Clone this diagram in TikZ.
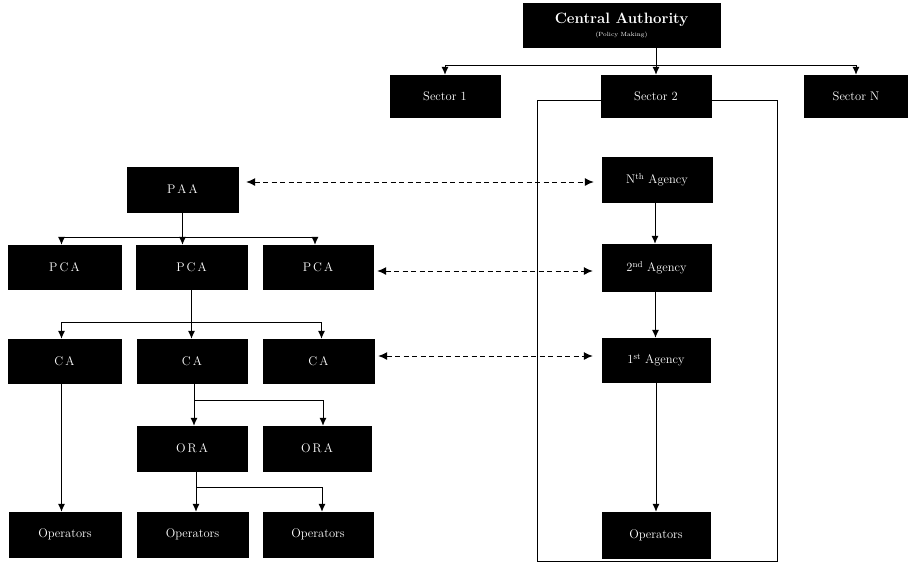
\documentclass[tikz,border=0pt]{standalone}
\usetikzlibrary{arrows.meta,calc}
\begin{document}
\begin{tikzpicture}[x=1pt,y=-1pt,
  box/.style={fill=black,draw=black,text=white,inner sep=0pt,minimum width=110pt,minimum height=45pt,font=\fontsize{12.5}{14}\selectfont},
  ln/.style={line width=1pt,draw=black},
  arr/.style={ln,-{Latex[length=8pt,width=7pt]}},
  darr/.style={ln,dash pattern=on 5pt off 3.5pt,{Latex[length=9pt,width=8pt]}-{Latex[length=9pt,width=8pt]}}]
\useasboundingbox (0,0) rectangle (908,563);
% frame around agencies
\draw[ln] (537,100) rectangle (777,561);
% top level
\node[box,minimum width=197pt,minimum height=44pt,align=center] (CA) at (621.5,25) {{\fontsize{15}{17}\selectfont\bfseries Central Authority}\\[-1pt]{\fontsize{6}{7}\selectfont (Policy Making)}};
\node[box,minimum height=42pt] (S1) at (445,96) {Sector 1};
\node[box,minimum height=42pt] (S2) at (656,96) {Sector 2};
\node[box,minimum width=104pt,minimum height=42pt] (S3) at (856,96) {Sector N};
% left tree
\node[box,minimum width=111pt] (PAA) at (182.5,189.5) {P\,A\,A};
\node[box,minimum width=113pt,minimum height=44pt] (PCA1) at (64.5,267) {P\,C\,A};
\node[box,minimum width=111pt,minimum height=44pt] (PCA2) at (191.5,267) {P\,C\,A};
\node[box,minimum height=44pt] (PCA3) at (318,267) {P\,C\,A};
\node[box,minimum width=113pt,minimum height=44pt] (CA1) at (64.5,361) {C\,A};
\node[box,minimum height=44pt] (CA2) at (192,361) {C\,A};
\node[box,minimum width=111pt,minimum height=44pt] (CA3) at (318.5,361) {C\,A};
\node[box] (ORA1) at (192,448.5) {O\,R\,A};
\node[box,minimum width=108pt] (ORA2) at (317,448.5) {O\,R\,A};
\node[box,minimum width=112pt] (B1) at (65,534.5) {Operators};
\node[box,minimum width=111pt] (B2) at (192.5,534.5) {Operators};
\node[box] (B3) at (318,534.5) {Operators};
% right column
\node[box] (A1) at (657,180) {N\textsuperscript{th} Agency};
\node[box,minimum width=109pt,minimum height=47pt] (A2) at (656.5,267.5) {2\textsuperscript{nd} Agency};
\node[box,minimum width=108pt,minimum height=44pt] (A3) at (656,360) {1\textsuperscript{st} Agency};
\node[box,minimum width=108pt,minimum height=46pt] (A4) at (656,535) {Operators};
% junction coordinates
\coordinate (j0) at (656,65);
\coordinate (j1) at (183,237);
\coordinate (j2) at (192,322);
\coordinate (j3) at (194,400);
\coordinate (j4) at (196,487);
% top connectors
\draw[arr] (CA.south -| S2.north) -- (S2.north);
\draw[ln] (S1.north |- j0) -- (S3.north |- j0);
\draw[arr] (S1.north |- j0) -- (S1.north);
\draw[arr] (S3.north |- j0) -- (S3.north);
% PAA -> PCA
\draw[arr] (PAA.south) -- (PAA.south |- PCA2.north);
\draw[ln] ([xshift=-3pt]PCA1.north |- j1) -- ([xshift=-3pt]PCA3.north |- j1);
\draw[arr] ([xshift=-3pt]PCA1.north |- j1) -- ([xshift=-3pt]PCA1.north);
\draw[arr] ([xshift=-3pt]PCA3.north |- j1) -- ([xshift=-3pt]PCA3.north);
% PCA -> CA
\draw[arr] (PCA2.south) -- (PCA2.south |- CA2.north);
\draw[ln] ([xshift=-3pt]CA1.north |- j2) -- ([xshift=3pt]CA3.north |- j2);
\draw[arr] ([xshift=-3pt]CA1.north |- j2) -- ([xshift=-3pt]CA1.north);
\draw[arr] ([xshift=3pt]CA3.north |- j2) -- ([xshift=3pt]CA3.north);
% CA -> lower
\draw[arr] ([xshift=-3pt]CA1.south) -- ([xshift=-3pt]CA1.south |- B1.north);
\draw[arr] ([xshift=2pt]CA2.south) -- ([xshift=2pt]CA2.south |- ORA1.north);
\draw[ln] ([xshift=2pt]CA2.south |- j3) -- ([xshift=6pt]ORA2.north |- j3);
\draw[arr] ([xshift=6pt]ORA2.north |- j3) -- ([xshift=6pt]ORA2.north);
% ORA -> operators
\draw[arr] ([xshift=4pt]ORA1.south) -- ([xshift=4pt]ORA1.south |- B2.north);
\draw[ln] ([xshift=4pt]ORA1.south |- j4) -- ([xshift=4pt]B3.north |- j4);
\draw[arr] ([xshift=4pt]B3.north |- j4) -- ([xshift=4pt]B3.north);
% agency column
\draw[arr] ([xshift=-2pt]A1.south) -- ([xshift=-2pt]A1.south |- A2.north);
\draw[arr] ([xshift=-1pt]A2.south) -- ([xshift=-1pt]A2.south |- A3.north);
\draw[arr] (A3.south) -- (A4.north);
% dashed links
\draw[darr] ([xshift=8pt]PAA.east |- 0,182) -- ([xshift=-8pt]A1.west |- 0,182);
\draw[darr] ([xshift=4pt]PCA3.east |- 0,271) -- ([xshift=-9pt]A2.west |- 0,271);
\draw[darr] ([xshift=4pt]CA3.east |- 0,356) -- ([xshift=-9pt]A3.west |- 0,356);
\end{tikzpicture}
\end{document}
